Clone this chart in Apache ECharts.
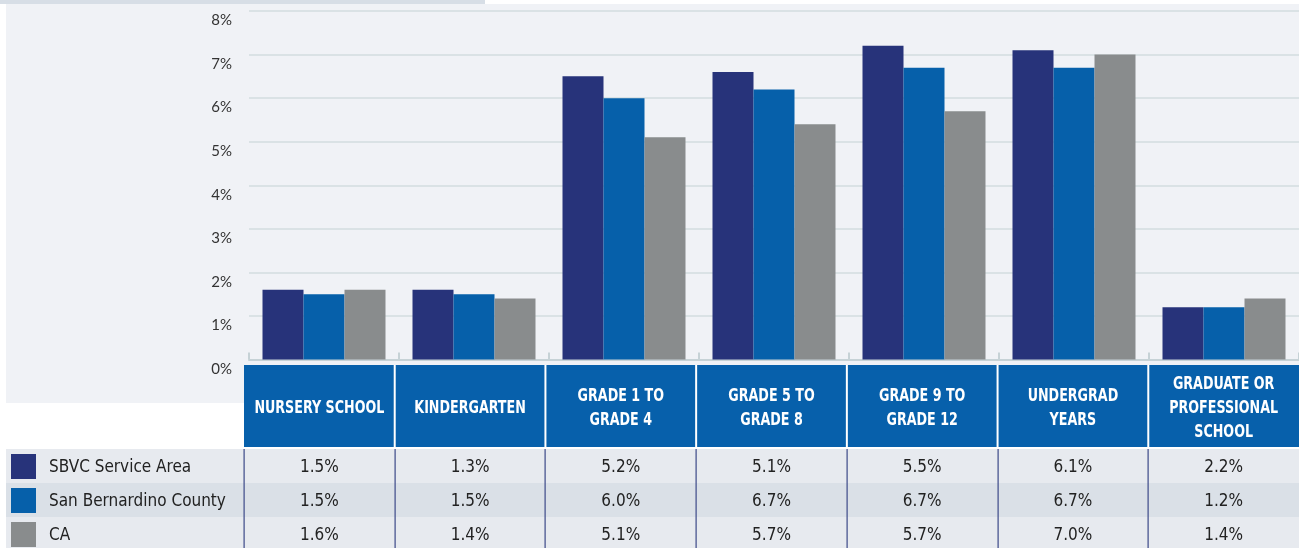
<!DOCTYPE html>
<html>
<head>
<meta charset="utf-8">
<script src="https://cdn.jsdelivr.net/npm/echarts@6/dist/echarts.min.js"></script>
<style>
  html, body { margin: 0; padding: 0; background: #fff; }
  #chart { width: 1299px; height: 548px; }
</style>
</head>
<body>
<div id="chart"></div>
<script>
const categories = [
  'NURSERY SCHOOL',
  'KINDERGARTEN',
  'GRADE 1 TO\nGRADE 4',
  'GRADE 5 TO\nGRADE 8',
  'GRADE 9 TO\nGRADE 12',
  'UNDERGRAD\nYEARS',
  'GRADUATE OR\nPROFESSIONAL\nSCHOOL'
]
const seriesNames = ['SBVC Service Area', 'San Bernardino County', 'CA']
const colors = ['#27337a', '#0660aa', '#898c8d']

// bar heights (%) as drawn in the chart
const sbvcBars = [1.6, 1.6, 6.5, 6.6, 7.2, 7.1, 1.2]
const countyBars = [1.5, 1.5, 6.0, 6.2, 6.7, 6.7, 1.2]
const caBars = [1.6, 1.4, 5.1, 5.4, 5.7, 7.0, 1.4]

// numbers printed in the table under the chart
const sbvcTable = [1.5, 1.3, 5.2, 5.1, 5.5, 6.1, 2.2]
const countyTable = [1.5, 1.5, 6.0, 6.7, 6.7, 6.7, 1.2]
const caTable = [1.6, 1.4, 5.1, 5.7, 5.7, 7.0, 1.4]

const yMin = 0, yMax = 8, yStep = 1

const condensed = '"Liberation Sans Narrow", "DejaVu Sans Condensed", "Noto Sans", sans-serif'

// table layout
const tableLeft = 244, tableRight = 1299
const colW = (tableRight - tableLeft) / categories.length
const headTop = 365, headH = 82
const rowTop = 449, rowH = 34
const rowFill = ['#e7eaef', '#dae0e7', '#e7eaef']

const graphics = []
// page background pieces
graphics.push({ type: 'rect', z: -5, shape: { x: 0, y: 0, width: 485, height: 4 }, style: { fill: '#d7dee6' } })
graphics.push({ type: 'rect', z: -5, shape: { x: 6, y: 4, width: 1293, height: 399 }, style: { fill: '#f0f2f6' } })

// header row
graphics.push({ type: 'rect', z: 10, shape: { x: tableLeft, y: headTop, width: tableRight - tableLeft, height: headH }, style: { fill: '#0760ab' } })
categories.forEach((c, i) => {
  const x0 = tableLeft + i * colW
  if (i > 0) {
    graphics.push({ type: 'rect', z: 11, shape: { x: x0 - 1, y: headTop, width: 2, height: headH }, style: { fill: '#ffffff' } })
  }
  graphics.push({
    type: 'text', z: 12, x: x0 + colW / 2, y: headTop + headH / 2 + 3, scaleX: 0.83,
    style: { text: c, fill: '#ffffff', font: 'bold 17px ' + condensed, align: 'center', verticalAlign: 'middle', lineHeight: 24 }
  })
})

// data rows with legend keys
const tableRows = [sbvcTable, countyTable, caTable]
tableRows.forEach((vals, r) => {
  const y0 = rowTop + r * rowH
  graphics.push({ type: 'rect', z: 10, shape: { x: 6, y: y0, width: tableRight - 6, height: rowH }, style: { fill: rowFill[r] } })
  graphics.push({ type: 'rect', z: 12, shape: { x: 11, y: y0 + 5, width: 25, height: 25 }, style: { fill: colors[r] } })
  graphics.push({
    type: 'text', z: 12, x: 49, y: y0 + rowH / 2 + 1.5,
    style: { text: seriesNames[r], fill: '#222', font: '17px ' + condensed, align: 'left', verticalAlign: 'middle' }
  })
  vals.forEach((v, i) => {
    graphics.push({
      type: 'text', z: 12, x: tableLeft + i * colW + colW / 2, y: y0 + rowH / 2 + 1.5,
      style: { text: v.toFixed(1) + '%', fill: '#222', font: '17px ' + condensed, align: 'center', verticalAlign: 'middle' }
    })
  })
})
for (let i = 0; i < categories.length; i++) {
  const x = Math.round(tableLeft + i * colW)
  graphics.push({ type: 'rect', z: 13, shape: { x: x - 0.5, y: rowTop, width: 1.2, height: 548 - rowTop }, style: { fill: '#3c4888' } })
}

const chart = echarts.init(document.getElementById('chart'))
chart.setOption({
  animation: false,
  backgroundColor: '#ffffff',
  color: colors,
  grid: { left: 249, right: 0, top: 11, bottom: 188.5, containLabel: false },
  xAxis: {
    type: 'category',
    data: categories,
    axisLine: { lineStyle: { color: '#c6d2d6', width: 2 } },
    axisTick: { show: true, inside: true, length: 7, lineStyle: { color: '#c6d2d6', width: 2 } },
    axisLabel: { show: false }
  },
  yAxis: {
    type: 'value',
    min: yMin,
    max: yMax,
    interval: yStep,
    axisLine: { show: false },
    axisTick: { show: false },
    axisLabel: {
      formatter: '{value}%',
      margin: 17,
      color: '#333',
      fontSize: 15,
      fontFamily: 'Lato, "Open Sans", sans-serif',
      verticalAlign: 'top',
      padding: [2, 0, 0, 0]
    },
    splitLine: { lineStyle: { color: '#d3dcdf', width: 1.6 } }
  },
  series: [
    { name: seriesNames[0], type: 'bar', data: sbvcBars, barWidth: 41, barGap: '0%' },
    { name: seriesNames[1], type: 'bar', data: countyBars, barWidth: 41, barGap: '0%' },
    { name: seriesNames[2], type: 'bar', data: caBars, barWidth: 41, barGap: '0%' }
  ],
  graphic: graphics
})
</script>
</body>
</html>
